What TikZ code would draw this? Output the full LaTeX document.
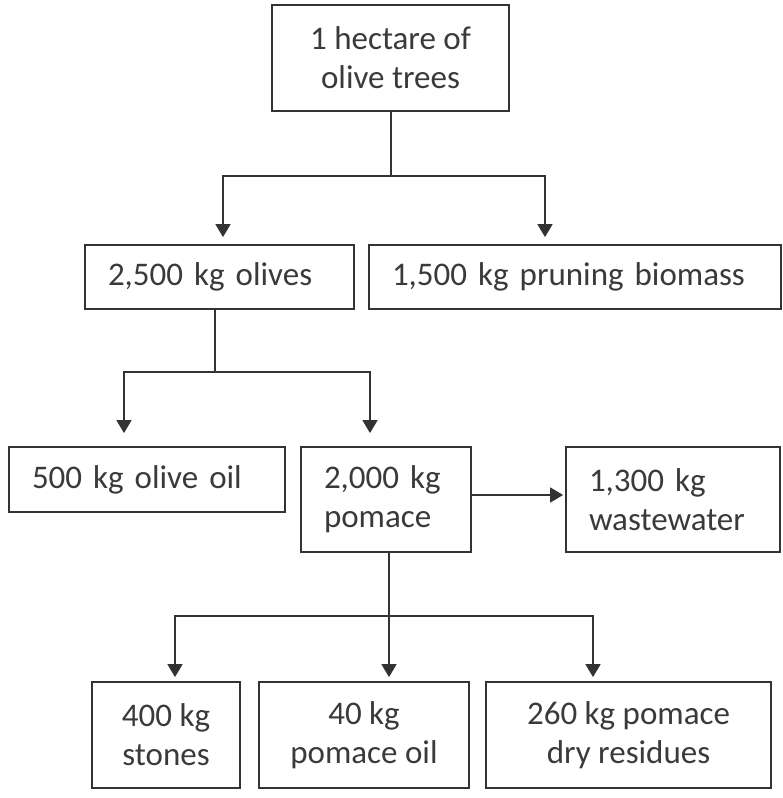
\documentclass[tikz,border=0pt]{standalone}
\usepackage{fontspec}
\setmainfont{Carlito}
\usepackage{tikz}
\usetikzlibrary{arrows.meta,positioning,calc}
\tikzset{>={Triangle[width=15pt,length=13pt]}}
\definecolor{linegray}{HTML}{333333}
\definecolor{textgray}{HTML}{3A3A3A}
\tikzset{
	box/.style={draw=linegray, line width=1.8pt, text=textgray, font=\fontsize{33pt}{39pt}\selectfont, inner sep=0pt},
	boxc/.style={box, align=center},
	boxl/.style={box, align=left, inner xsep=23pt, text width=#1},
	flow/.style={draw=linegray, line width=1.7pt}
}

\begin{document}
\begin{tikzpicture}[x=1pt, y=-1pt]
		\useasboundingbox (0,0) rectangle (782,798);
		\node[boxc, minimum width=237pt, minimum height=106pt] (hectare) at (390.5,58) {1 hectare of\\olive trees};
		\node[boxl=223pt, minimum height=64pt] (olives) at (219.5,277) {2,500 kg olives};
		\node[boxl=366pt, minimum height=64pt] (pruning) at (575,277) {1,500 kg pruning biomass};
		\node[boxl=230pt, minimum height=65pt] (oliveoil) at (147,479.5) {500 kg olive oil};
		\node[boxl=124pt, minimum height=105pt] (pomace) at (386,499.5) {2,000 kg\\pomace};
		\node[boxl=168pt, minimum height=105pt] (wastewater) at (673,499.5) {1,300 kg\\wastewater};
		\node[boxc, minimum width=148pt, minimum height=106pt] (stones) at (166,735) {400 kg\\stones};
		\node[boxc, minimum width=210pt, minimum height=106pt] (pomaceoil) at (364,735) {40 kg\\pomace oil};
		\node[boxc, minimum width=285pt, minimum height=106pt] (residues) at (628.5,735) {260 kg pomace\\dry residues};

		\coordinate (split1) at (391,176);
		\coordinate (split2) at (215,372);
		\coordinate (split3) at (389,616);

		\draw[flow] (hectare.south -| split1) -- (split1);
		\draw[flow, ->, shorten >=7pt] (split1) -| ([xshift=3.5pt]olives.north);
		\draw[flow, ->, shorten >=7pt] (split1) -| ([xshift=-30pt]pruning.north);

		\draw[flow] (olives.south -| split2) -- (split2);
		\draw[flow, ->, shorten >=13pt] (split2) -| ([xshift=-23pt]oliveoil.north);
		\draw[flow, ->, shorten >=13pt] (split2) -| ([xshift=-16pt]pomace.north);

		\draw[flow, ->, shorten >=2pt] ([yshift=4.5pt]pomace.east) -- ([yshift=4.5pt]wastewater.west);

		\draw[flow] (pomace.south -| split3) -- (split3);
		\draw[flow, ->, shorten >=4pt] (split3) -| ([xshift=9pt]stones.north);
		\draw[flow, ->, shorten >=4pt] (split3) -- (pomaceoil.north -| split3);
		\draw[flow, ->, shorten >=4pt] (split3) -| ([xshift=-35.5pt]residues.north);
	\end{tikzpicture}
\end{document}
